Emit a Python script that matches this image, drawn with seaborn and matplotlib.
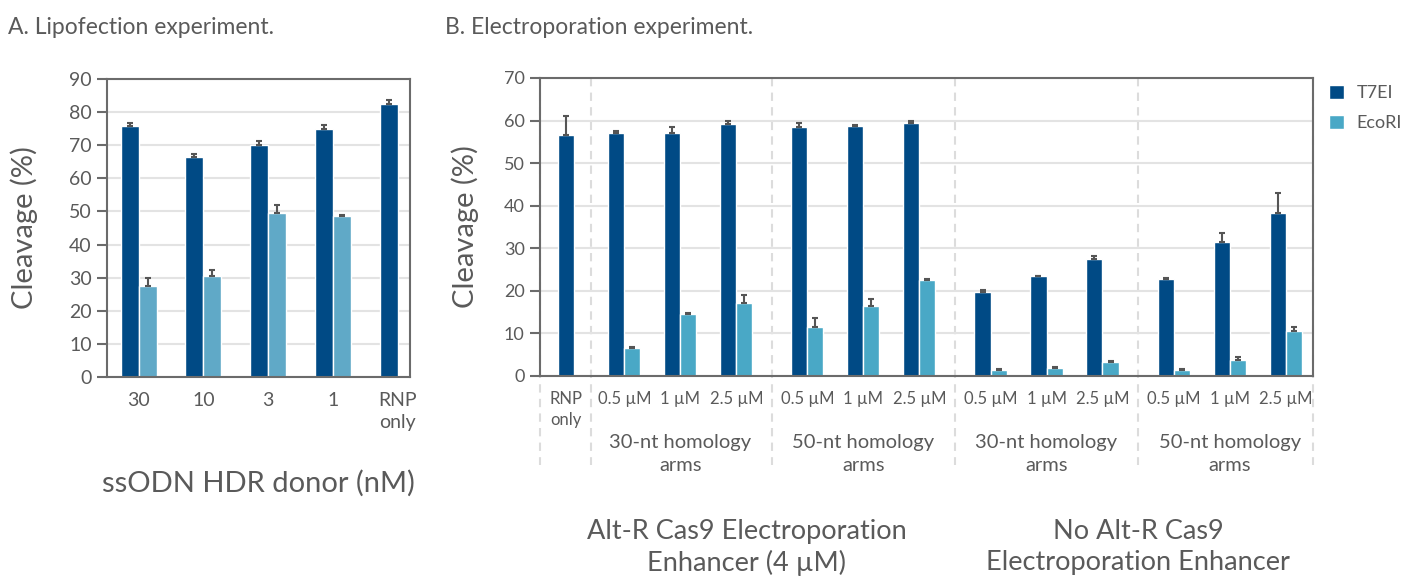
import numpy as np
import pandas as pd
import matplotlib
matplotlib.use("Agg")
import matplotlib.pyplot as plt
import matplotlib.transforms as mtrans
import seaborn as sns

# ---- A. Lipofection ----
lipo_donor = ["30", "10", "3", "1", "RNP\nonly"]
lipo_t7ei = [75.8, 66.3, 70.2, 75.0, 82.4]
lipo_t7ei_err = [0.8, 1.1, 1.2, 1.1, 1.2]
lipo_ecori = [27.6, 30.6, 49.4, 48.6, np.nan]
lipo_ecori_err = [2.4, 1.6, 2.4, 0.2, np.nan]

# ---- B. Electroporation ----
elec_conc = ["RNP\nonly"] + ["0.5 µM", "1 µM", "2.5 µM"] * 4
elec_t7ei = [56.6, 57.1, 57.1, 59.2, 58.5, 58.8, 59.5, 19.8, 23.5, 27.5, 22.8, 31.5, 38.4]
elec_t7ei_err = [4.4, 0.5, 1.4, 0.6, 1.0, 0.2, 0.3, 0.3, 0.1, 0.7, 0.3, 2.1, 4.5]
elec_ecori = [np.nan, 6.6, 14.6, 17.2, 11.5, 16.5, 22.6, 1.4, 1.9, 3.3, 1.4, 3.8, 10.6]
elec_ecori_err = [np.nan, 0.2, 0.1, 1.9, 2.2, 1.7, 0.3, 0.2, 0.2, 0.2, 0.2, 0.7, 1.0]
arm_groups = ["30-nt homology\narms", "50-nt homology\narms",
              "30-nt homology\narms", "50-nt homology\narms"]
enhancer_groups = ["Alt-R Cas9 Electroporation\nEnhancer (4 µM)",
                   "No Alt-R Cas9\nElectroporation Enhancer"]

assays = ["T7EI", "EcoRI"]

TXT = "#5a5a5a"
SPINE = "#6b6b6b"
ERR = "#555555"

sns.set_theme(style="white")
plt.rcParams["font.family"] = ["Lato", "DejaVu Sans"]
plt.rcParams["text.color"] = TXT


def long_table(x, t7, t7e, eco, ecoe):
    df = pd.DataFrame({
        "x": list(x) * 2,
        "assay": ["T7EI"] * len(x) + ["EcoRI"] * len(x),
        "value": list(t7) + list(eco),
        "err": list(t7e) + list(ecoe),
    })
    return df.dropna()


def add_errbars(ax, df):
    for cont, assay in zip(ax.containers, assays):
        sub = df[df["assay"] == assay]
        for bar, err in zip(cont, sub["err"]):
            cx = bar.get_x() + bar.get_width() / 2
            ax.errorbar(cx, bar.get_height(), yerr=[[0], [err]], fmt="none",
                        ecolor=ERR, elinewidth=1.5, capsize=2.5, capthick=1.5, zorder=3)


def style_axes(ax, ytop, ysize):
    for s in ax.spines.values():
        s.set_color(SPINE)
        s.set_linewidth(1.5)
    ax.set_ylim(0, ytop)
    ax.set_yticks(range(0, ytop + 1, 10))
    ax.yaxis.grid(True, color="#e3e3e3", lw=1.5)
    ax.set_axisbelow(True)
    ax.tick_params(axis="y", left=True, length=7, width=1.5, color=SPINE,
                   labelsize=ysize, labelcolor=TXT, pad=4)
    ax.tick_params(axis="x", bottom=False, length=0, labelcolor=TXT, pad=11)


fig = plt.figure(figsize=(14.05, 5.8), dpi=100)

# ---------------- panel A ----------------
axA = fig.add_axes([107 / 1405, 1 - 377 / 580, 303 / 1405, 298 / 580])
dfA = long_table(lipo_donor, lipo_t7ei, lipo_t7ei_err, lipo_ecori, lipo_ecori_err)
sns.barplot(data=dfA, x="x", y="value", hue="assay", hue_order=assays, order=lipo_donor,
            palette={"T7EI": "#004a85", "EcoRI": "#60a9c7"}, saturation=1,
            width=0.556, errorbar=None, legend=False, ax=axA)
add_errbars(axA, dfA)
style_axes(axA, 90, 14)
axA.set_xlim(-0.49, 4.19)
axA.tick_params(axis="x", labelsize=14)
for t in axA.get_xticklabels():
    t.set_linespacing(1.35)
axA.set_ylabel("Cleavage (%)", fontsize=21, color=TXT, labelpad=22)
axA.set_xlabel("ssODN HDR donor (nM)", fontsize=21, color=TXT, labelpad=28)

# ---------------- panel B ----------------
rnp_gap, group_gap = 0.9, 1.27
elec_pos = [0.0]
for g in range(4):
    start = rnp_gap + g * (2 + group_gap)
    elec_pos += [round(start + i, 3) for i in range(3)]

axB = fig.add_axes([540 / 1405, 1 - 376 / 580, 773 / 1405, 298 / 580])
dfB = long_table(elec_pos, elec_t7ei, elec_t7ei_err, elec_ecori, elec_ecori_err)
sns.barplot(data=dfB, x="x", y="value", hue="assay", hue_order=assays,
            native_scale=True, palette={"T7EI": "#004a85", "EcoRI": "#49a8c6"},
            saturation=1, width=0.636, errorbar=None, ax=axB)
add_errbars(axB, dfB)
style_axes(axB, 70, 13)
axB.set_xlim(-0.607, 13.2)

bar_w = axB.containers[0][0].get_width()
rnp_bar = axB.containers[0][0]
ticks = [rnp_bar.get_x() + bar_w / 2] + elec_pos[1:]
axB.set_xticks(ticks)
axB.set_xticklabels(elec_conc, fontsize=12)
for t in axB.get_xticklabels():
    t.set_linespacing(1.4)
axB.set_xlabel("")
axB.set_ylabel("Cleavage (%)", fontsize=21, color=TXT, labelpad=18)

# dashed separators between groups
trans = mtrans.blended_transform_factory(axB.transData, axB.transAxes)
groups = [elec_pos[1 + 3 * g: 4 + 3 * g] for g in range(4)]
seps = [(elec_pos[0] + groups[0][0] - bar_w) / 2]
for g in range(3):
    seps.append((groups[g][-1] + groups[g + 1][0]) / 2)
seps = [axB.get_xlim()[0]] + seps + [axB.get_xlim()[1]]
for s in seps:
    axB.plot([s, s], [1, -0.30], transform=trans, clip_on=False, color="#dcdcdc",
             lw=1.5, ls=(0, (4, 3)), zorder=0)

for g, lbl in enumerate(arm_groups):
    axB.text(np.mean(groups[g]), -0.195, lbl, transform=trans, ha="center", va="top",
             fontsize=14.5, color=TXT, linespacing=1.4)

enh_centers = [(elec_pos[0] + groups[1][-1]) / 2, (groups[2][0] + groups[3][-1]) / 2]
for c, lbl in zip(enh_centers, enhancer_groups):
    axB.text(c, -0.48, lbl, transform=trans, ha="center", va="top",
             fontsize=19.5, color=TXT, linespacing=1.3)

handles, labels = axB.get_legend_handles_labels()
axB.legend(handles, labels, loc="upper left", bbox_to_anchor=(1.012, 1.0),
           frameon=False, fontsize=13, handlelength=0.8, handleheight=0.8,
           handletextpad=0.7, labelspacing=0.75, borderaxespad=0, labelcolor=TXT)

fig.text(8 / 1405, 1 - 28 / 580, "A. Lipofection experiment.", fontsize=16.5,
         color=TXT, va="center", ha="left")
fig.text(445 / 1405, 1 - 28 / 580, "B. Electroporation experiment.", fontsize=16.5,
         color=TXT, va="center", ha="left")

fig.savefig("out.png", dpi=100)
